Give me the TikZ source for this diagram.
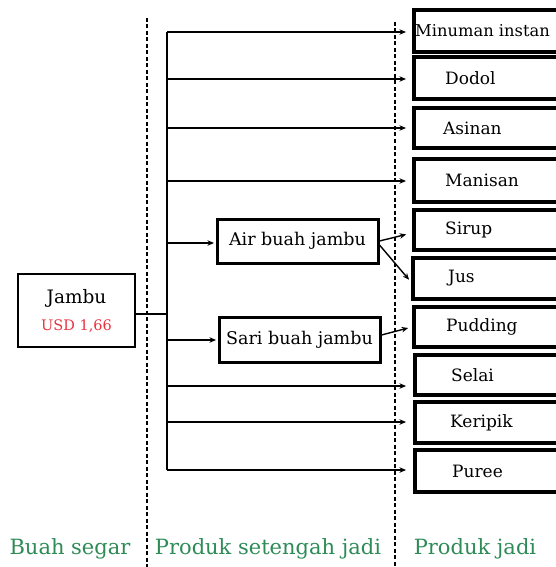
\documentclass[tikz,border=0pt]{standalone}
\usepackage{fontspec}
\setmainfont{DejaVu Serif}
\usetikzlibrary{arrows.meta}
\definecolor{lblgreen}{HTML}{2E8B57}
\definecolor{pricered}{HTML}{E8333F}
\tikzset{
  pbox/.style={draw, line width=3.5pt, minimum width=170pt, anchor=west, inner sep=0pt},
  mbox/.style={draw, line width=3pt, minimum width=161pt, minimum height=44pt, inner sep=0pt, font=\fontsize{17.5}{20}\selectfont},
  ln/.style={line width=1.4pt},
  arr/.style={line width=1.4pt, -{Stealth[length=6.5pt,width=5.5pt]}},
  dsh/.style={line width=1.1pt, dash pattern=on 4pt off 2.5pt},
  lbl/.style={text=lblgreen, font=\fontsize{21}{24}\selectfont},
  ptxt/.style={font=\fontsize{17}{20}\selectfont, anchor=west, inner sep=0pt}
}
\begin{document}
\begin{tikzpicture}[x=1pt,y=-1pt]
\useasboundingbox (0,0) rectangle (555,567);
% dashed separators
\draw[dsh] (147,18) -- (147,567);
\draw[dsh] (395,22) -- (395,567);
% Jambu
\node[draw, line width=2.5pt, minimum width=117pt, minimum height=73pt, align=center, font=\fontsize{18.5}{21}\selectfont] (jambu) at (76.5,310.5)
  {Jambu\\[6pt]{\color{pricered}\fontsize{14.5}{17}\selectfont USD 1,66}};
% right boxes
\node[pbox, minimum height=42pt, label={[ptxt, xshift=3pt, font=\fontsize{16.3}{19}\selectfont]west:Minuman instan}] (minuman) at (412,31) {};
\node[pbox, minimum height=42pt, label={[ptxt, xshift=33pt]west:Dodol}] (dodol) at (412,78) {};
\node[pbox, minimum height=40pt, label={[ptxt, xshift=31pt]west:Asinan}] (asinan) at (412,128) {};
\node[pbox, minimum height=43pt, label={[ptxt, xshift=33pt]west:Manisan}] (manisan) at (412,180.5) {};
\node[pbox, minimum height=40pt, label={[ptxt, xshift=33pt]west:Sirup}] (sirup) at (412,230) {};
\node[pbox, minimum height=41pt, label={[ptxt, xshift=37pt]west:Jus}] (jus) at (411,278.5) {};
\node[pbox, minimum height=40pt, label={[ptxt, xshift=34pt]west:Pudding}] (pudding) at (412,327) {};
\node[pbox, minimum height=40pt, label={[ptxt, xshift=38pt]west:Selai}] (selai) at (413,375) {};
\node[pbox, minimum height=41pt, label={[ptxt, xshift=37pt]west:Keripik}] (keripik) at (413,422.5) {};
\node[pbox, minimum height=42pt, label={[ptxt, xshift=39pt]west:Puree}] (puree) at (413,471) {};
% middle boxes
\node[mbox] (air) at (297.5,241) {Air buah jambu};
\node[mbox, minimum height=45pt] (sari) at (299.5,339.5) {Sari buah jambu};
% trunk
\coordinate (t1) at (167,32);
\coordinate (t2) at (167,79);
\coordinate (t3) at (167,128);
\coordinate (t4) at (167,181);
\coordinate (t5) at (167,243);
\coordinate (tj) at (167,314);
\coordinate (t6) at (167,340);
\coordinate (t7) at (167,386);
\coordinate (t8) at (167,422);
\coordinate (t9) at (167,470);
\draw[ln] (t1) -- (t9);
\draw[ln] (jambu.east |- tj) -- (tj);
\draw[arr, shorten >=6pt] (t1) -- (t1 -| minuman.west);
\draw[arr, shorten >=6pt] (t2) -- (t2 -| dodol.west);
\draw[arr, shorten >=6pt] (t3) -- (t3 -| asinan.west);
\draw[arr, shorten >=6pt] (t4) -- (t4 -| manisan.west);
\draw[arr, shorten >=1.5pt] (t5) -- (t5 -| air.west);
\draw[arr, shorten >=1.5pt] (t6) -- (t6 -| sari.west);
\draw[arr, shorten >=7pt] (t7) -- (t7 -| selai.west);
\draw[arr, shorten >=7pt] (t8) -- (t8 -| keripik.west);
\draw[arr, shorten >=7pt] (t9) -- (t9 -| puree.west);
% from semi products
\draw[arr, shorten >=6pt] (air.east) -- ([yshift=-3pt]sirup.west);
\draw[arr, shorten >=3pt] ([yshift=-4pt]air.east) -- ([yshift=-3.5pt]jus.west);
\draw[arr, shorten >=4pt] ([yshift=4.5pt]sari.east) -- (pudding.west);
% column labels
\node[lbl] (l1) at (70,549) {Buah segar};
\node[lbl] (l2) at (268,549) {Produk setengah jadi};
\node[lbl] (l3) at (475,549) {Produk jadi};
\end{tikzpicture}
\end{document}
